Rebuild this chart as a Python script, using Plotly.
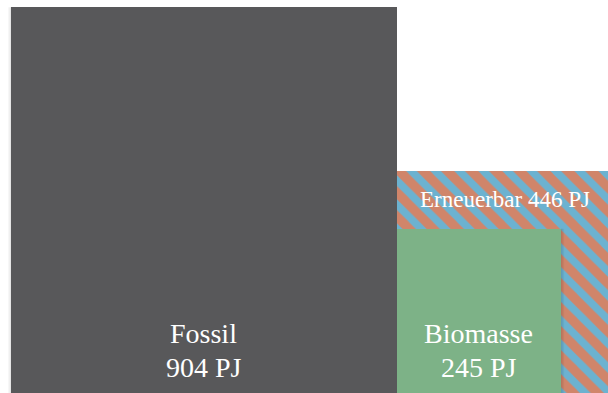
import numpy as np
import plotly.graph_objects as go

# --- data ---
categories = ["Fossil", "Erneuerbar", "Biomasse"]
values_pj = [904, 446, 245]
unit = "PJ"

# --- styling / layout (not data) ---
W, H = 608, 393
k = 10.5            # px per sqrt(PJ)
left0 = 11
col_fossil = "#58585a"
col_orange = "#d0856a"
col_blue = "#6cb2d0"
col_green = "#7db287"
font_family = "Liberation Serif, Times New Roman, serif"

total = sum(values_pj[:2])
side_f = k * np.sqrt(total)          # Fossil square anchored to the full height
side_e = k * np.sqrt(values_pj[1])
side_b = k * np.sqrt(values_pj[2])

x_f = left0
x_e = x_f + side_f
x_b = x_e

fig = go.Figure()
fig.add_bar(x=[x_f + side_f / 2], y=[side_f], width=[side_f], base=0,
            marker=dict(color=col_fossil, line=dict(width=0)), hoverinfo="skip")
fig.add_bar(x=[x_e + side_e / 2], y=[side_e], width=[side_e], base=0,
            marker=dict(color=col_orange, line=dict(width=0),
                        pattern=dict(shape="\\", fgcolor=col_blue, bgcolor=col_orange,
                                     fgopacity=1, size=17, solidity=0.45)),
            hoverinfo="skip")
fig.add_bar(x=[x_b + side_b / 2], y=[side_b], width=[side_b], base=0,
            marker=dict(color=col_green, line=dict(width=0)), hoverinfo="skip")

shapes = []
# soft shadows
for i, a in enumerate([0.10, 0.06, 0.03]):
    shapes.append(dict(type="rect", xref="x", yref="y", layer="below",
                       x0=x_f - i - 1, x1=x_f - i, y0=0, y1=side_f,
                       fillcolor=f"rgba(0,0,0,{a})", line=dict(width=0)))
for i, a in enumerate([0.14, 0.08, 0.04]):
    shapes.append(dict(type="rect", xref="x", yref="y", layer="above",
                       x0=x_b + side_b + i, x1=x_b + side_b + i + 1, y0=0, y1=side_b,
                       fillcolor=f"rgba(0,0,0,{a})", line=dict(width=0)))

ann = []
big = 28
for (cx, name, val) in [(x_f + side_f / 2, categories[0], values_pj[0]),
                        (x_b + side_b / 2, categories[2], values_pj[2])]:
    ann.append(dict(x=cx, y=60, text=name, showarrow=False, xanchor="center",
                    yanchor="middle", font=dict(family=font_family, size=big, color="white")))
    ann.append(dict(x=cx, y=26, text=f"{val} {unit}", showarrow=False, xanchor="center",
                    yanchor="middle", font=dict(family=font_family, size=big, color="white")))
ann.append(dict(x=x_e + side_e / 2 - 3, y=(side_e + side_b) / 2,
                text=f"{categories[1]} {values_pj[1]} {unit}", showarrow=False,
                xanchor="center", yanchor="middle",
                font=dict(family=font_family, size=23, color="white")))

fig.update_layout(
    width=W, height=H, margin=dict(l=0, r=0, t=0, b=0),
    paper_bgcolor="white", plot_bgcolor="white",
    barmode="overlay", bargap=0, showlegend=False,
    xaxis=dict(range=[0, W], visible=False, fixedrange=True),
    yaxis=dict(range=[0, H], visible=False, fixedrange=True),
    shapes=shapes, annotations=ann, hovermode=False,
)
fig.write_html("out.html", config={"displayModeBar": False})
